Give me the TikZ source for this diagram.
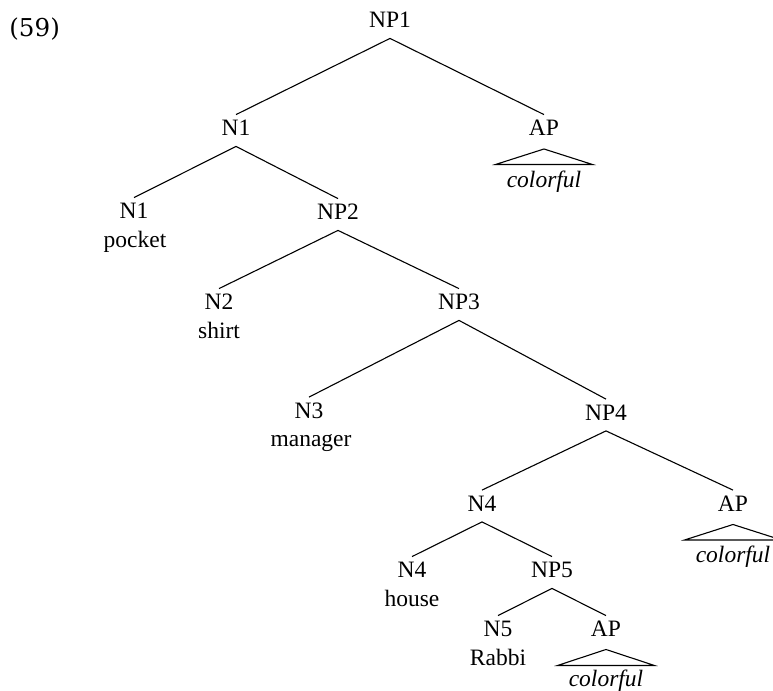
\documentclass[tikz,border=0pt]{standalone}
\usepackage{fontspec}
\setmainfont{Liberation Serif}
\newfontfamily\exfont{DejaVu Serif}
\usetikzlibrary{calc}
\begin{document}
\begin{tikzpicture}[x=0.5pt,y=-0.5pt,
  cat/.style={anchor=base,inner sep=0pt,text height=10.25pt,text depth=5.25pt,font=\fontsize{11.75pt}{14pt}\selectfont},
  word/.style={anchor=base,inner sep=0pt,font=\fontsize{11.75pt}{14pt}\selectfont},
  iword/.style={anchor=base,inner sep=0pt,font=\fontsize{11.75pt}{14pt}\selectfont\itshape},
  edge/.style={line width=0.55pt},
  roof/.style={line width=0.55pt,line join=miter}]
\useasboundingbox (0,0) rectangle (773,691);
\node[anchor=base west,inner sep=0pt,font=\exfont\fontsize{12.3pt}{14pt}\selectfont] (ex) at (9,36) {(59)};
% categories
\node[cat] (np1) at (390,27.5) {NP1};
\node[cat] (n1) at (236,135.5) {N1};
\node[cat] (ap1) at (544,135.5) {AP};
\node[cat] (n1l) at (134,218.5) {N1};
\node[cat] (np2) at (338,219.5) {NP2};
\node[cat] (n2) at (219,309.5) {N2};
\node[cat] (np3) at (459,309.5) {NP3};
\node[cat] (n3) at (309,418) {N3};
\node[cat] (np4) at (606,420) {NP4};
\node[cat] (n4) at (482,511) {N4};
\node[cat] (ap2) at (733,511) {AP};
\node[cat] (n4l) at (412,577.5) {N4};
\node[cat] (np5) at (552,577.5) {NP5};
\node[cat] (n5) at (498,636.5) {N5};
\node[cat] (ap3) at (606,636.5) {AP};
% words
\node[word] (w1) at ($(n1l.base)+(1,28.5)$) {pocket};
\node[word] (w2) at ($(n2.base)+(0,28.5)$) {shirt};
\node[word] (w3) at ($(n3.base)+(2,28.5)$) {manager};
\node[word] (w4) at ($(n4l.base)+(0,29)$) {house};
\node[word] (w5) at ($(n5.base)+(0,29)$) {Rabbi};
\node[iword] (c1) at ($(ap1.base)+(0,51.5)$) {colorful};
\node[iword] (c2) at ($(ap2.base)+(0,51)$) {colorful};
\node[iword] (c3) at ($(ap3.base)+(0,50)$) {colorful};
% edges
\draw[edge] (np1.south) -- (n1.north);
\draw[edge] (np1.south) -- (ap1.north);
\draw[edge] (n1.south) -- (n1l.north);
\draw[edge] (n1.south) -- (np2.north);
\draw[edge] (np2.south) -- (n2.north);
\draw[edge] (np2.south) -- (np3.north);
\draw[edge] (np3.south) -- (n3.north);
\draw[edge] (np3.south) -- (np4.north);
\draw[edge] (np4.south) -- (n4.north);
\draw[edge] (np4.south) -- (ap2.north);
\draw[edge] (n4.south) -- (n4l.north);
\draw[edge] (n4.south) -- (np5.north);
\draw[edge] (np5.south) -- (n5.north);
\draw[edge] (np5.south) -- (ap3.north);
% roofs
\draw[roof] ($(ap1.base)+(0,13.5)$) -- ++(-48.5,15.5) -- ++(97,0) -- cycle;
\draw[roof] ($(ap2.base)+(0,13.5)$) -- ++(-48.5,15.5) -- ++(97,0) -- cycle;
\draw[roof] ($(ap3.base)+(0,13)$) -- ++(-48.5,16) -- ++(97,0) -- cycle;
\end{tikzpicture}
\end{document}
